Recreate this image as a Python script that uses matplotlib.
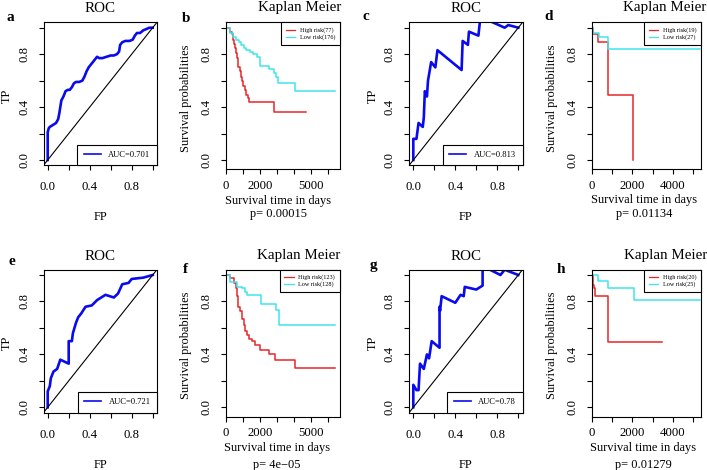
import matplotlib
matplotlib.use('Agg')
import matplotlib.pyplot as plt

plt.rcParams['font.family'] = ['Liberation Serif', 'DejaVu Serif']

W, H = 707, 470

# ROC curves (FP, TP)
roc_a_fp = [0.0, 0.0, 0.01, 0.02, 0.04, 0.06, 0.08, 0.10, 0.11, 0.12, 0.13, 0.15, 0.17, 0.19, 0.21,
            0.23, 0.25, 0.27, 0.30, 0.33, 0.35, 0.37, 0.39, 0.41, 0.44, 0.47, 0.49, 0.52, 0.56, 0.60,
            0.63, 0.66, 0.68, 0.69, 0.71, 0.74, 0.78, 0.81, 0.83, 0.85, 0.88, 0.91, 0.94, 0.97, 1.0]
roc_a_tp = [0.0, 0.21, 0.24, 0.25, 0.26, 0.27, 0.28, 0.31, 0.35, 0.40, 0.45, 0.48, 0.52, 0.53, 0.53,
            0.55, 0.58, 0.59, 0.59, 0.60, 0.63, 0.67, 0.70, 0.72, 0.75, 0.78, 0.77, 0.77, 0.78, 0.79,
            0.79, 0.80, 0.82, 0.87, 0.89, 0.90, 0.90, 0.91, 0.94, 0.96, 0.96, 0.98, 0.99, 1.0, 1.0]
roc_c_fp = [0.0, 0.0, 0.03, 0.05, 0.09, 0.10, 0.11, 0.13, 0.14, 0.17, 0.21, 0.23, 0.46, 0.47, 0.52,
            0.53, 0.62, 0.635, 0.73, 0.87, 0.905, 1.0]
roc_c_tp = [0.0, 0.16, 0.16, 0.28, 0.25, 0.32, 0.52, 0.48, 0.60, 0.74, 0.70, 0.83, 0.68, 0.90, 0.87,
            0.97, 0.94, 1.05, 1.05, 1.0, 1.02, 1.0]
roc_e_fp = [0.0, 0.0, 0.02, 0.03, 0.055, 0.09, 0.12, 0.16, 0.20, 0.20, 0.23, 0.24, 0.27, 0.29, 0.32,
            0.36, 0.42, 0.47, 0.55, 0.63, 0.67, 0.71, 0.77, 0.80, 0.91, 1.0]
roc_e_tp = [0.0, 0.12, 0.16, 0.22, 0.27, 0.29, 0.36, 0.345, 0.33, 0.50, 0.50, 0.56, 0.64, 0.68, 0.71,
            0.76, 0.77, 0.81, 0.85, 0.83, 0.86, 0.93, 0.94, 0.97, 0.98, 1.0]
roc_g_fp = [0.0, 0.0, 0.03, 0.05, 0.064, 0.10, 0.13, 0.15, 0.175, 0.25, 0.25, 0.255, 0.27, 0.40,
            0.45, 0.48, 0.49, 0.60, 0.66, 0.66, 0.73, 0.83, 0.87, 1.0]
roc_g_tp = [0.0, 0.17, 0.13, 0.13, 0.33, 0.29, 0.40, 0.37, 0.50, 0.45, 0.76, 0.73, 0.84, 0.79,
            0.85, 0.84, 0.91, 0.89, 0.92, 1.05, 1.04, 1.0, 1.04, 1.0]
auc_labels = ['AUC=0.701', 'AUC=0.813', 'AUC=0.721', 'AUC=0.78']

# Kaplan Meier steps: step start times (days), survival from that time on, last follow-up time
km_b_high_t = [0, 230, 330, 430, 480, 530, 580, 630, 680, 730, 800, 880, 950, 1020, 1100, 1200, 1280, 1370, 2830]
km_b_high_s = [1.0, 0.97, 0.95, 0.91, 0.88, 0.85, 0.81, 0.77, 0.74, 0.70, 0.67, 0.63, 0.60, 0.56, 0.53, 0.49, 0.47, 0.44, 0.36]
km_b_high_end = 4680
km_b_low_t = [0, 230, 430, 600, 750, 900, 1050, 1200, 1400, 1600, 1800, 2000, 2500, 2800, 2950, 3050, 4050]
km_b_low_s = [1.0, 0.96, 0.93, 0.91, 0.89, 0.87, 0.85, 0.83, 0.82, 0.80, 0.78, 0.71, 0.69, 0.66, 0.63, 0.58, 0.52]
km_b_low_end = 6420

km_d_high_t = [0, 60, 320, 800, 2050]
km_d_high_s = [1.0, 0.95, 0.89, 0.49, 0.0]
km_d_high_end = 2050
km_d_low_t = [0, 60, 330, 790]
km_d_low_s = [1.0, 0.96, 0.93, 0.84]
km_d_low_end = 5350

km_f_high_t = [0, 250, 450, 585, 645, 700, 840, 935, 1035, 1130, 1230, 1370, 1530, 1720, 2015, 2540, 2890, 4063]
km_f_high_s = [1.0, 0.975, 0.94, 0.90, 0.84, 0.76, 0.73, 0.67, 0.62, 0.58, 0.546, 0.52, 0.50, 0.47, 0.43, 0.40, 0.357, 0.295]
km_f_high_end = 6410
km_f_low_t = [0, 250, 645, 935, 1130, 1230, 2070, 2950, 3090]
km_f_low_s = [1.0, 0.95, 0.91, 0.90, 0.875, 0.85, 0.78, 0.735, 0.62]
km_f_low_end = 6410

km_h_high_t = [0, 50, 115, 165, 795]
km_h_high_s = [1.0, 0.925, 0.90, 0.84, 0.49]
km_h_high_end = 3465
km_h_low_t = [0, 300, 795, 2063]
km_h_low_s = [1.0, 0.955, 0.905, 0.81]
km_h_low_end = 5360

km_legends = [('High risk(77)', 'Low risk(176)'), ('High risk(19)', 'Low risk(27)'),
              ('High risk(123)', 'Low risk(128)'), ('High risk(20)', 'Low risk(25)')]
p_values = ['p= 0.00015', 'p= 0.01134', 'p= 4e\u221205', 'p= 0.01279']

BLUE = '#0A0AEE'
RED = '#E8262A'
CYAN = '#3EE5EC'

fig = plt.figure(figsize=(W / 100, H / 100), dpi=100)


def add_ax(left, top, right, bottom):
    return fig.add_axes([left / W, 1 - bottom / H, (right - left) / W, (bottom - top) / H])


def ftext(x, y, s, **kw):
    fig.text(x / W, 1 - y / H, s, **kw)


def style_axes(ax, xpad):
    for sp in ax.spines.values():
        sp.set_linewidth(0.8)
    ax.tick_params(direction='out', length=3.6, width=0.8, labelsize=9.2)
    ax.tick_params(axis='x', pad=xpad)
    ax.tick_params(axis='y', pad=6.0)
    ax.set_yticks([0, 0.2, 0.4, 0.6, 0.8, 1.0])
    ax.set_yticklabels(['0.0', '', '0.4', '', '0.8', ''])
    for lab in ax.get_yticklabels():
        lab.set_rotation(90)
        lab.set_va('center')


def draw_roc(box, fp, tp, auc, letter, letter_xy, row_y):
    left, top, right, bottom = box
    ax = add_ax(*box)
    ax.plot(fp, tp, color=BLUE, lw=1.9, label=auc)
    ax.axline((0, 0), slope=1, color='black', lw=0.8)
    ax.set_xlim(-0.04, 1.04)
    ax.set_ylim(-0.04, 1.04)
    ax.set_xticks([0, 0.2, 0.4, 0.6, 0.8, 1.0])
    ax.set_xticklabels(['0.0', '', '0.4', '', '0.8', ''])
    style_axes(ax, 8.0)
    leg = ax.legend(loc='lower right', borderaxespad=0, fancybox=False, framealpha=1,
                    edgecolor='black', fontsize=6.1, handlelength=2.0, handletextpad=0.9,
                    borderpad=0.75)
    leg.get_frame().set_linewidth(0.8)
    for ln in leg.get_lines():
        ln.set_linewidth(1.2)
    cx = (left + right) / 2
    ftext(cx, row_y[0], 'ROC', ha='center', va='center', fontsize=10.8)
    ftext(cx, row_y[1], 'FP', ha='center', va='center', fontsize=8.9)
    ftext(left - 36.5, (top + bottom) / 2 + 2, 'TP', ha='center', va='center', rotation=90, fontsize=8.9)
    ftext(letter_xy[0], letter_xy[1], letter, ha='center', va='baseline', fontsize=11, fontweight='bold')


def draw_km(box, xmax, xticks, xlabels, high, low, legend, pval, letter, letter_xy, row_y, title_x, lab_x):
    left, top, right, bottom = box
    ax = add_ax(*box)
    ht, hs, hend = high
    lt, ls, lend = low
    ax.step(ht + [hend], hs + [hs[-1]], where='post', color=RED, lw=1.1, label=legend[0])
    ax.step(lt + [lend], ls + [ls[-1]], where='post', color=CYAN, lw=1.1, label=legend[1])
    ax.set_xlim(0, xmax)
    ax.set_ylim(-0.07, 1.04)
    ax.set_xticks(xticks)
    ax.set_xticklabels(xlabels)
    style_axes(ax, 4.0)
    leg = ax.legend(loc='upper right', borderaxespad=0, fancybox=False, framealpha=1,
                    edgecolor='black', fontsize=4.4, handlelength=1.5, handletextpad=0.8,
                    borderpad=0.8, labelspacing=0.2)
    leg.get_frame().set_linewidth(0.8)
    for ln in leg.get_lines():
        ln.set_linewidth(0.9)
    ftext(title_x, row_y[0], 'Kaplan Meier', ha='center', va='center', fontsize=10.8)
    ftext(lab_x, row_y[1], 'Survival time in days', ha='center', va='center', fontsize=8.9)
    ftext(lab_x, row_y[2], pval, ha='center', va='center', fontsize=8.9)
    ftext(left - 40.5, (top + bottom) / 2 + 2, 'Survival probabilities', ha='center', va='center',
          rotation=90, fontsize=8.9)
    ftext(letter_xy[0], letter_xy[1], letter, ha='center', va='baseline', fontsize=11, fontweight='bold')


ticks6 = [0, 1000, 2000, 3000, 4000, 5000, 6000]
labels6 = ['0', '', '2000', '', '', '5000', '']
ticks5 = [0, 1000, 2000, 3000, 4000, 5000]
labels5 = ['0', '', '2000', '', '4000', '']

# top row
draw_roc((43.5, 22.4, 156.9, 165.3), roc_a_fp, roc_a_tp, auc_labels[0], 'a', (10.7, 20.7), (8.5, 217))
draw_km((226, 22.4, 340, 169.3), 6690, ticks6, labels6,
        (km_b_high_t, km_b_high_s, km_b_high_end), (km_b_low_t, km_b_low_s, km_b_low_end),
        km_legends[0], p_values[0], 'b', (186, 21.7), (8, 201, 214.5), 299.5, 278)
draw_roc((409.1, 22.4, 522.5, 165.3), roc_c_fp, roc_c_tp, auc_labels[1], 'c', (365.8, 20), (8.5, 217))
draw_km((592, 22.4, 701, 169.3), 5400, ticks5, labels5,
        (km_d_high_t, km_d_high_s, km_d_high_end), (km_d_low_t, km_d_low_s, km_d_low_end),
        km_legends[1], p_values[1], 'd', (549, 20), (8, 200, 213.5), 665, 644)

# bottom row
draw_roc((43.5, 269.7, 156.9, 412.6), roc_e_fp, roc_e_tp, auc_labels[2], 'e', (11.7, 265), (256, 465))
draw_km((226, 269.7, 340, 416.6), 6690, ticks6, labels6,
        (km_f_high_t, km_f_high_s, km_f_high_end), (km_f_low_t, km_f_low_s, km_f_low_end),
        km_legends[2], p_values[2], 'f', (185, 273.3), (256, 448.3, 465), 299, 277)
draw_roc((409.1, 269.7, 522.5, 412.6), roc_g_fp, roc_g_tp, auc_labels[3], 'g', (373.3, 268.7), (256, 465))
draw_km((592, 269.7, 701, 416.6), 5400, ticks5, labels5,
        (km_h_high_t, km_h_high_s, km_h_high_end), (km_h_low_t, km_h_low_s, km_h_low_end),
        km_legends[3], p_values[3], 'h', (561, 273.3), (256, 448.3, 465), 665.5, 643)

fig.savefig('out.png', dpi=100)
